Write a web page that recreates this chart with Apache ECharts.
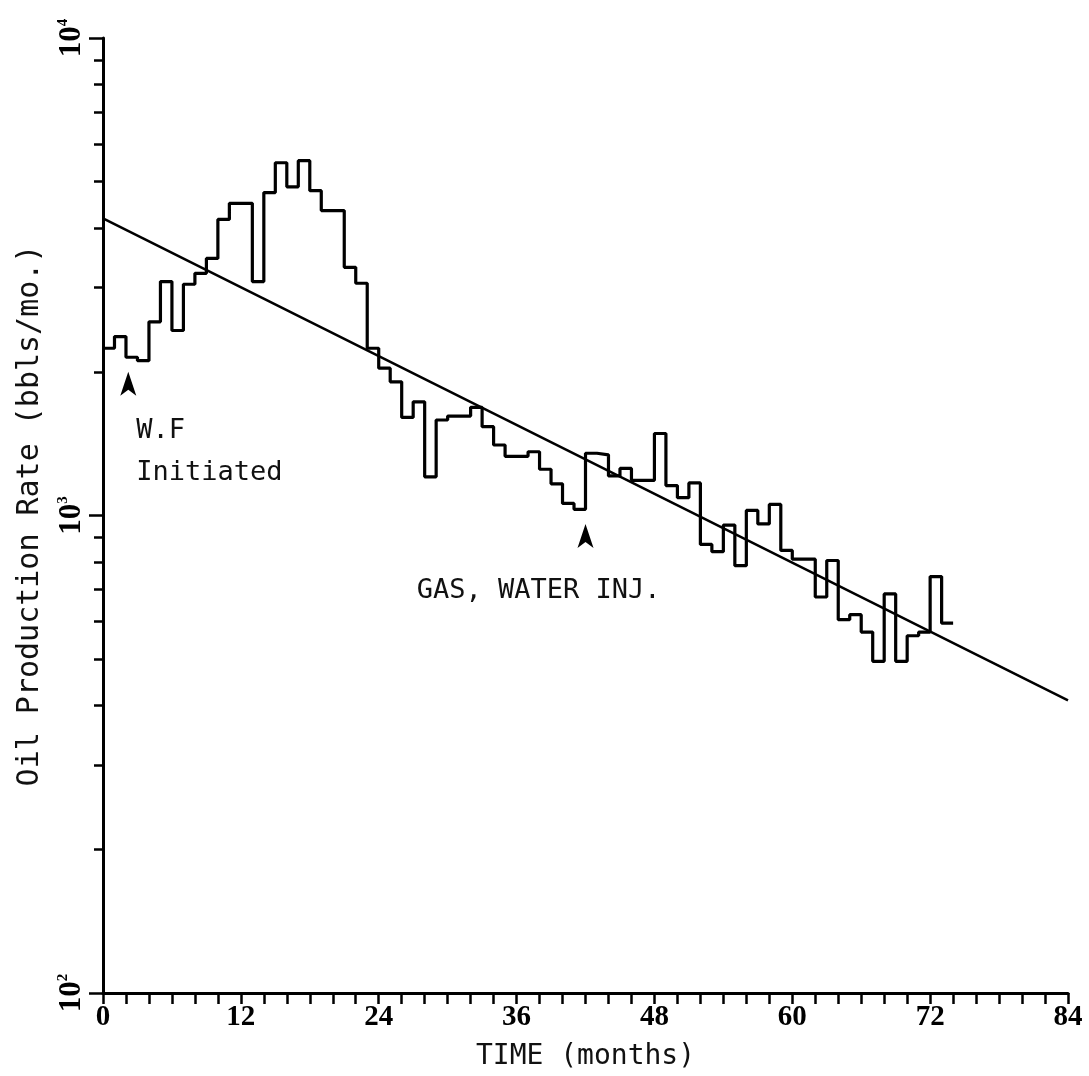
<!DOCTYPE html>
<html>
<head>
<meta charset="utf-8">
<script src="https://cdn.jsdelivr.net/npm/echarts@6/dist/echarts.min.js"></script>
<style>
  html, body { margin: 0; padding: 0; background: #fff; }
  #chart { width: 1089px; height: 1076px; }
</style>
</head>
<body>
<div id="chart"></div>
<script>
// monthly oil rate, one value per month starting at month 0 (bbls/mo.)
var rates = [
  2240, 2370, 2145, 2110, 2545, 3090, 2440, 3050, 3215, 3455,
  4170, 4505, 4505, 3090, 4745, 5480, 4880, 5535, 4790, 4350,
  4350, 3310, 3065, 2240, 2035, 1905, 1605, 1730, 1205, 1585,
  1615, 1615, 1685, 1535, 1405, 1330, 1330, 1360, 1250, 1165,
  1060, 1030, 1350, 1340, 1210, 1255, 1185, 1185, 1485, 1155,
  1090, 1170, 870, 840, 955, 785, 1025, 960, 1055, 845,
  810, 810, 675, 805, 605, 620, 570, 495, 685, 495,
  560, 570, 745, 595
];
// fitted decline line: [month, rate]
var trendMonths = [0, 84];
var trendRates = [4190, 410];
// x ticks and labels
var xTickStep = 2;
var xLabelStep = 12;
// y ticks (log)
var yMajor = [100, 1000, 10000];
var yMinor = [200, 300, 400, 500, 600, 700, 800, 900,
              2000, 3000, 4000, 5000, 6000, 7000, 8000, 9000];
// annotations: [month, rate, text]
var arrows = [[2.2, 2000], [42.0, 960]];
var notes = [[2.9, 1500, 'W.F'], [2.9, 1230, 'Initiated'], [27.3, 695, 'GAS, WATER INJ.']];

var stepData = [];
for (var i = 0; i < rates.length; i++) {
  stepData.push([i, rates[i]]);
}
stepData.push([rates.length, rates[rates.length - 1]]);

var trendData = [];
for (var k = 0; k < trendMonths.length; k++) {
  trendData.push([trendMonths[k], trendRates[k]]);
}

var markData = [];
arrows.forEach(function (a) {
  markData.push({
    coord: [a[0], a[1]],
    symbol: 'arrow',
    symbolSize: [12, 24],
    itemStyle: { color: '#000' },
    label: { show: false }
  });
});
notes.forEach(function (n) {
  markData.push({
    coord: [n[0], n[1]],
    symbol: 'circle',
    symbolSize: 0,
    label: {
      show: true,
      position: 'right',
      distance: 0,
      formatter: n[2],
      color: '#111',
      fontFamily: 'DejaVu Sans Mono',
      fontSize: 27
    }
  });
});

var sup = { 2: '2', 3: '3', 4: '4' };

var option = {
  backgroundColor: '#fff',
  animation: false,
  grid: { left: 103, right: 21, top: 38, bottom: 83 },
  xAxis: {
    type: 'value',
    min: 0,
    max: 84,
    interval: xTickStep,
    name: 'TIME (months)',
    nameLocation: 'middle',
    nameGap: 50,
    nameTextStyle: { fontFamily: 'DejaVu Sans Mono', fontSize: 28, color: '#111' },
    axisLine: { lineStyle: { color: '#000', width: 3 } },
    axisTick: { length: 11, lineStyle: { color: '#000', width: 2.5 } },
    axisLabel: {
      margin: 10,
      color: '#000',
      fontFamily: 'Liberation Serif',
      fontWeight: 'bold',
      fontSize: 29,
      formatter: function (v) { return v % xLabelStep === 0 ? String(v) : ''; }
    },
    splitLine: { show: false }
  },
  yAxis: [{
    type: 'log',
    logBase: 10,
    min: 100,
    max: 10000,
    name: 'Oil Production Rate (bbls/mo.)',
    nameLocation: 'middle',
    nameGap: 58,
    nameTextStyle: { fontFamily: 'DejaVu Sans Mono', fontSize: 30, color: '#111' },
    axisLine: { show: true, lineStyle: { color: '#000', width: 3 } },
    axisTick: { show: true, length: 14, customValues: yMajor, lineStyle: { color: '#000', width: 2.5 } },
    axisLabel: {
      rotate: 90,
      margin: 16,
      color: '#000',
      customValues: yMajor,
      formatter: function (v) {
        var e = Math.round(Math.log(v) / Math.LN10);
        return '{b|10}{s|' + sup[e] + '}';
      },
      rich: {
        b: { fontFamily: 'Liberation Serif', fontWeight: 'bold', fontSize: 31, color: '#000' },
        s: { fontFamily: 'Liberation Serif', fontWeight: 'bold', fontSize: 15, color: '#000', verticalAlign: 'top' }
      }
    },
    splitLine: { show: false }
  }, {
    type: 'log',
    logBase: 10,
    min: 100,
    max: 10000,
    position: 'left',
    axisLine: { show: false },
    axisLabel: { show: false },
    axisTick: { show: true, length: 9, customValues: yMinor, lineStyle: { color: '#000', width: 2.5 } },
    splitLine: { show: false }
  }],
  series: [{
    name: 'rate',
    type: 'line',
    step: 'end',
    data: stepData,
    symbol: 'none',
    lineStyle: { color: '#000', width: 3.2 },
    silent: true
  }, {
    name: 'trend',
    type: 'line',
    data: trendData,
    symbol: 'none',
    lineStyle: { color: '#000', width: 2.5 },
    markPoint: { data: markData, silent: true, animation: false },
    silent: true
  }]
};

var myChart = echarts.init(document.getElementById('chart'));
myChart.setOption(option);
</script>
</body>
</html>
